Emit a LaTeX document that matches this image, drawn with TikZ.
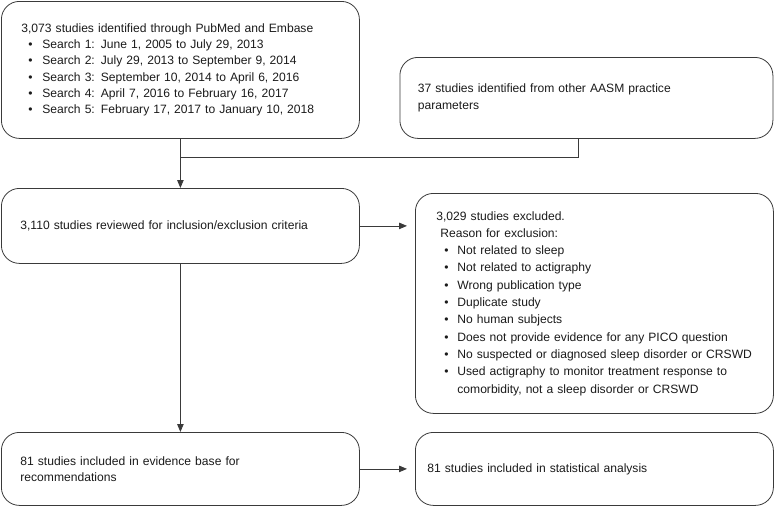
\documentclass[tikz,border=0pt]{standalone}
\usepackage{fontspec}
\setmainfont{Liberation Sans}
\usetikzlibrary{arrows.meta}
\definecolor{linegray}{HTML}{3A3A3A}
\definecolor{txt}{HTML}{1A1A1A}
\newcommand{\bul}[1]{\hspace*{7pt}\makebox[14pt][l]{•}#1}
\newcommand{\bulD}[1]{\hspace*{8pt}\makebox[13pt][l]{•}#1}
\tikzset{
  box/.style={draw=linegray, line width=0.8pt, rounded corners=18pt, anchor=north west,
    align=left, inner ysep=0pt, text=txt, font=\fontsize{12.1}{16.2}\selectfont},
  conn/.style={draw=linegray, line width=0.8pt},
  arr/.style={conn, -{Triangle[length=8pt,width=6.5pt]}}
}
\begin{document}
\begin{tikzpicture}[x=1pt,y=-1pt]
\useasboundingbox (0,0) rectangle (774,506);
\node[box, inner xsep=20pt, text width=318pt, minimum width=358pt, minimum height=137pt] (a) at (1,1)
 {3,073 studies identified through PubMed and Embase\\
  \bul{Search 1: June 1, 2005 to July 29, 2013}\\
  \bul{Search 2: July 29, 2013 to September 9, 2014}\\
  \bul{Search 3: September 10, 2014 to April 6, 2016}\\
  \bul{Search 4: April 7, 2016 to February 16, 2017}\\
  \bul{Search 5: February 17, 2017 to January 10, 2018}};
\node[box, inner xsep=18pt, text width=337pt, minimum width=373pt, minimum height=81pt] (b) at (399.5,57)
 {37 studies identified from other AASM practice\\ parameters};
\node[box, inner xsep=19pt, text width=320pt, minimum width=358pt, minimum height=75pt] (c) at (1,188)
 {3,110 studies reviewed for inclusion/exclusion criteria};
\node[box, inner xsep=21pt, text width=316pt, minimum width=358pt, minimum height=220pt, font=\fontsize{12.1}{17.3}\selectfont] (d) at (415,193)
 {3,029 studies excluded.\\
  \hspace*{4pt}Reason for exclusion:\\
  \bulD{Not related to sleep}\\
  \bulD{Not related to actigraphy}\\
  \bulD{Wrong publication type}\\
  \bulD{Duplicate study}\\
  \bulD{No human subjects}\\
  \bulD{Does not provide evidence for any PICO question}\\
  \bulD{No suspected or diagnosed sleep disorder or CRSWD}\\
  \bulD{Used actigraphy to monitor treatment response to}\\
  \hspace*{21pt}comorbidity, not a sleep disorder or CRSWD};
\node[box, inner xsep=19pt, text width=320pt, minimum width=358pt, minimum height=73pt] (e) at (1,432)
 {81 studies included in evidence base for\\ recommendations};
\node[box, inner xsep=12pt, text width=334pt, minimum width=358pt, minimum height=73pt] (f) at (415,432)
 {81 studies included in statistical analysis};
\coordinate (bj) at (578,138);
\coordinate (mj) at (180,157);
\draw[arr] (a.south) -- (c.north);
\draw[conn] (bj) |- (mj);
\draw[arr, shorten >=8pt] (c.east) -- (d.west |- c.east);
\draw[arr] (c.south) -- (e.north);
\draw[arr, shorten >=8pt] (e.east) -- (f.west);
\end{tikzpicture}
\end{document}
